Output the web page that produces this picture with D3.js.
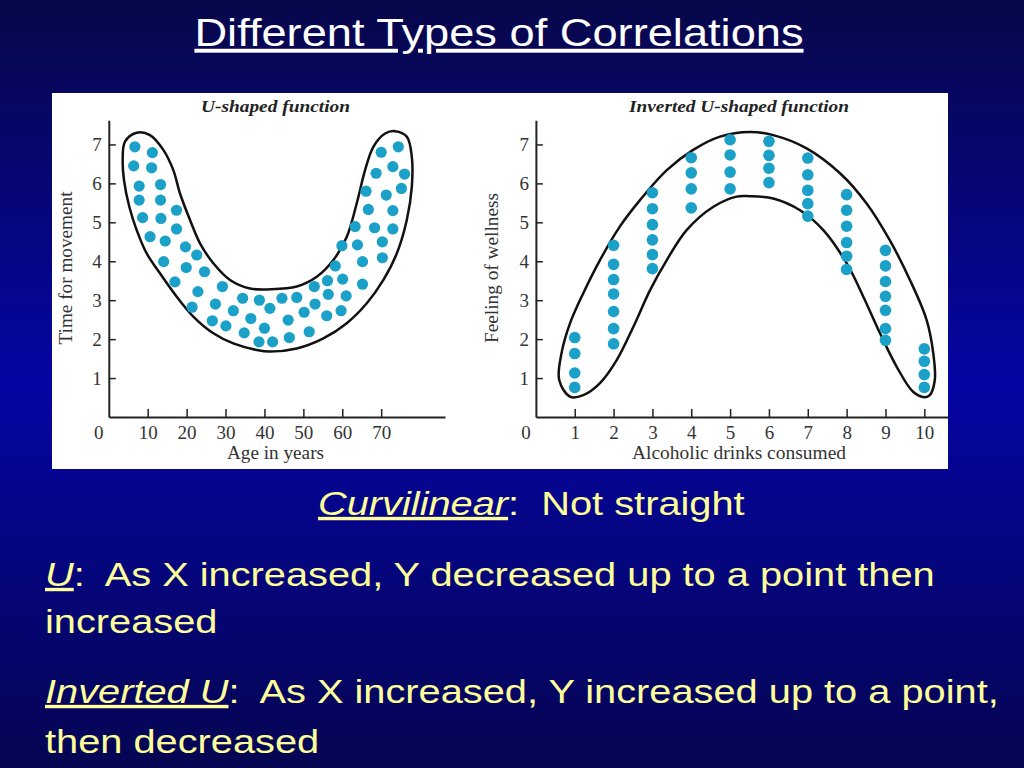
<!DOCTYPE html>
<html>
<head>
<meta charset="utf-8">
<script src="https://cdn.jsdelivr.net/npm/d3@7"></script>
<style>
  html, body { margin: 0; padding: 0; background: #000; }
  svg { display: block; }
</style>
</head>
<body>
<svg id="slide" width="1024" height="768"></svg>
<script>
// ---- data ----
var slideTitle = "Different Types of Correlations";

var uTitle = "U-shaped function";
var uXLabel = "Age in years";
var uYLabel = "Time for movement";
var uXTicks = [10, 20, 30, 40, 50, 60, 70];
var uYTicks = [1, 2, 3, 4, 5, 6, 7];
// [age, time for movement]
var uDots = [
  [6.7,6.94],[11.2,6.79],[6.4,6.45],[11.0,6.40],[7.8,5.93],[13.3,5.97],[7.8,5.57],[13.3,5.57],
  [17.4,5.31],[8.7,5.12],[13.4,5.10],[17.4,4.83],[10.6,4.63],[14.5,4.52],[19.7,4.37],[22.6,4.16],
  [14.1,3.99],[19.9,3.84],[24.6,3.73],[17.0,3.47],[29.2,3.35],[22.9,3.22],[34.4,3.05],[38.7,3.00],
  [21.4,2.82],[27.4,2.90],[41.4,2.79],[32.0,2.73],[26.6,2.47],[36.5,2.53],[30.1,2.34],[40.0,2.28],
  [34.8,2.16],[38.6,1.93],[42.1,1.93],
  [74.4,6.94],[70.0,6.80],[73.0,6.43],[76.0,6.24],[68.7,6.26],[75.2,5.87],[66.1,5.80],[71.3,5.70],
  [66.7,5.33],[73.0,5.30],[63.3,4.89],[68.3,4.86],[73.0,4.83],[59.9,4.40],[63.9,4.42],[70.3,4.50],
  [65.2,3.99],[70.3,4.09],[58.2,3.88],[56.2,3.50],[60.1,3.54],[65.2,3.41],[52.8,3.35],[56.4,3.15],
  [61.0,3.11],[44.5,3.05],[48.3,3.07],[53.0,2.90],[50.2,2.69],[56.0,2.60],[59.7,2.73],[46.1,2.49],
  [51.5,2.19],[46.4,2.04]
];
// outline drawn round the U cloud (closed)
var uEnvelope = [
  [7.17,7.30],[4.16,7.07],[3.57,6.60],[3.91,6.08],[5.27,5.40],[7.17,4.80],[9.74,4.20],[13.16,3.69],
  [17.46,3.09],[21.72,2.58],[26.86,2.15],[32.0,1.89],[38.02,1.72],[41.44,1.68],[48.3,1.76],[55.14,2.02],
  [61.16,2.41],[66.3,2.92],[70.57,3.52],[74.01,4.20],[76.58,5.06],[77.87,5.91],[77.87,6.68],[76.58,7.20],
  [73.57,7.34],[71.0,7.28],[68.0,6.94],[65.86,6.34],[63.73,5.49],[61.16,4.63],[57.71,4.03],[53.44,3.60],
  [48.3,3.35],[41.44,3.28],[36.3,3.30],[31.16,3.52],[26.86,3.95],[23.44,4.46],[20.87,5.06],[18.3,5.74],
  [16.58,6.34],[14.01,6.86],[10.59,7.24]
];

var invTitle = "Inverted U-shaped function";
var invXLabel = "Alcoholic drinks consumed";
var invYLabel = "Feeling of wellness";
var drinks = [1, 2, 3, 4, 5, 6, 7, 8, 9, 10];
var invYTicks = [1, 2, 3, 4, 5, 6, 7];
// wellness scores stacked above each drink count
var wellness = [
  [2.04,1.63,1.13,0.76],
  [4.41,3.92,3.53,3.16,2.71,2.27,1.88],
  [5.76,5.35,4.94,4.55,4.17,3.81],
  [6.66,6.27,5.86,5.37],
  [7.12,6.73,6.29,5.86],
  [7.08,6.72,6.39,6.02],
  [6.65,6.22,5.82,5.48,5.16],
  [5.71,5.31,4.90,4.48,4.13,3.79],
  [4.28,3.88,3.48,3.10,2.74,2.27,1.97],
  [1.75,1.43,1.09,0.76]
];
var invEnvelope = [
  [0.88,0.52],[0.60,0.95],[0.66,1.64],[0.88,2.41],[1.22,3.18],[1.65,4.03],[2.16,4.89],[2.68,5.57],
  [3.37,6.34],[4.05,6.86],[4.74,7.20],[5.51,7.32],[6.11,7.24],[6.97,6.90],[7.83,6.26],[8.51,5.49],
  [9.11,4.54],[9.63,3.52],[10.06,2.49],[10.23,1.64],[10.27,0.95],[10.14,0.56],[10.01,0.51],[9.71,0.65],
  [9.29,1.29],[8.86,2.15],[8.43,3.09],[8.0,3.95],[7.40,4.80],[6.80,5.31],[6.11,5.61],[5.51,5.67],
  [5.17,5.66],[4.57,5.40],[3.88,4.80],[3.37,4.03],[2.94,3.26],[2.51,2.32],[2.08,1.46],[1.65,0.87],
  [1.22,0.56]
];

var noteTerms = ["Curvilinear", "U", "", "Inverted U", ""];
var noteTexts = [
  ":  Not straight",
  ":  As X increased, Y decreased up to a point then",
  "increased",
  ":  As X increased, Y increased up to a point,",
  "then decreased"
];

// ---- layout ----
var W = 1024, H = 768;
var serif = "'Liberation Serif', 'DejaVu Serif', serif";
var sans = "'Liberation Sans', Arial, sans-serif";
var dotColor = "#1ba0c8";
var inkColor = "#222";

var svg = d3.select("#slide");
var defs = svg.append("defs");
var bg = defs.append("linearGradient").attr("id", "bg")
  .attr("x1", 0).attr("y1", 0).attr("x2", 0).attr("y2", 1);
bg.append("stop").attr("offset", "0%").attr("stop-color", "#07074a");
bg.append("stop").attr("offset", "50%").attr("stop-color", "#0505a4");
bg.append("stop").attr("offset", "100%").attr("stop-color", "#050552");

svg.append("rect").attr("width", W).attr("height", H).attr("fill", "url(#bg)");

svg.append("text")
  .attr("transform", "translate(499,46) scale(1.16,1)")
  .attr("text-anchor", "middle")
  .attr("font-family", sans)
  .attr("font-size", 39)
  .attr("fill", "#fff")
  .style("text-decoration", "underline")
  .text(slideTitle);

// white picture panel
svg.append("rect")
  .attr("x", 52).attr("y", 93).attr("width", 896).attr("height", 376)
  .attr("fill", "#fff");

function drawPanel(cfg) {
  var g = svg.append("g");
  var x = d3.scaleLinear().domain(cfg.xDomain).range(cfg.xRange);
  var y = d3.scaleLinear().domain([0, 7.62]).range([417, 120.3]);

  var line = d3.line()
    .x(function(d){ return x(d[0]); })
    .y(function(d){ return y(d[1]); })
    .curve(d3.curveCatmullRomClosed.alpha(0.5));

  g.append("path")
    .attr("d", line(cfg.envelope))
    .attr("fill", "none")
    .attr("stroke", "#111")
    .attr("stroke-width", 2.5);

  g.selectAll("circle.dot")
    .data(cfg.dots)
    .enter().append("circle")
    .attr("class", "dot")
    .attr("cx", function(d){ return x(d[0]); })
    .attr("cy", function(d){ return y(d[1]); })
    .attr("r", cfg.r)
    .attr("fill", dotColor);

  var xAxis = g.append("g")
    .attr("transform", "translate(0,417)")
    .call(d3.axisBottom(x).tickValues(cfg.xTicks).tickSizeInner(-8).tickSizeOuter(0).tickPadding(9));
  var yAxis = g.append("g")
    .attr("transform", "translate(" + cfg.xRange[0] + ",0)")
    .call(d3.axisLeft(y).tickValues(cfg.yTicks).tickSizeInner(-7).tickSizeOuter(0).tickPadding(7));

  [xAxis, yAxis].forEach(function(a){
    a.attr("font-family", null).attr("font-size", null);
    a.select(".domain").attr("stroke", inkColor).attr("stroke-width", 2);
    a.selectAll(".tick line").attr("stroke", inkColor).attr("stroke-width", 1.5);
    a.selectAll(".tick text")
      .attr("font-family", serif).attr("font-size", 19).attr("fill", "#333");
  });

  // origin label sits at the corner, left of the y axis
  g.append("text")
    .attr("x", cfg.xRange[0] - 10).attr("y", 438.5)
    .attr("text-anchor", "middle")
    .attr("font-family", serif).attr("font-size", 19).attr("fill", "#333")
    .text("0");

  g.append("text")
    .attr("x", cfg.titleX).attr("y", 112)
    .attr("text-anchor", "middle")
    .attr("font-family", serif).attr("font-size", 16)
    .attr("font-weight", "bold").attr("font-style", "italic")
    .attr("fill", inkColor)
    .attr("textLength", cfg.titleW).attr("lengthAdjust", "spacingAndGlyphs")
    .text(cfg.title);

  g.append("text")
    .attr("x", cfg.titleX).attr("y", 459)
    .attr("text-anchor", "middle")
    .attr("font-family", serif).attr("font-size", 18)
    .attr("fill", "#333")
    .attr("textLength", cfg.xLabelW).attr("lengthAdjust", "spacingAndGlyphs")
    .text(cfg.xLabel);

  g.append("text")
    .attr("transform", "translate(" + cfg.yLabelX + ",268) rotate(-90)")
    .attr("text-anchor", "middle")
    .attr("font-family", serif).attr("font-size", 18)
    .attr("fill", "#333")
    .attr("textLength", cfg.yLabelW).attr("lengthAdjust", "spacingAndGlyphs")
    .text(cfg.yLabel);
}

drawPanel({
  xDomain: [0, 86.4], xRange: [108.8, 445],
  xTicks: uXTicks, yTicks: uYTicks,
  dots: uDots, envelope: uEnvelope, r: 5.6,
  title: uTitle, titleX: 275.5, titleW: 149,
  xLabel: uXLabel, xLabelW: 97,
  yLabel: uYLabel, yLabelX: 71.5, yLabelW: 153
});

var invDots = [];
wellness.forEach(function(col, i){
  col.forEach(function(v){ invDots.push([drinks[i], v]); });
});

drawPanel({
  xDomain: [0, 10.61], xRange: [535.9, 948],
  xTicks: drinks, yTicks: invYTicks,
  dots: invDots, envelope: invEnvelope, r: 5.8,
  title: invTitle, titleX: 739, titleW: 220,
  xLabel: invXLabel, xLabelW: 214,
  yLabel: invYLabel, yLabelX: 497.5, yLabelW: 150
});

// bullet notes under the picture
var noteX = [318, 45, 45, 45, 45];
var noteY = [515, 586, 633, 703, 753];

noteTexts.forEach(function(t, i){
  var txt = svg.append("text")
    .attr("transform", "translate(" + noteX[i] + "," + noteY[i] + ") scale(1.17,1)")
    .attr("font-family", sans)
    .attr("font-size", 34)
    .attr("fill", "#ffff99")
    .style("white-space", "pre");
  if (noteTerms[i]) {
    txt.append("tspan")
      .attr("font-style", "italic")
      .style("text-decoration", "underline")
      .text(noteTerms[i]);
  }
  txt.append("tspan").text(t);
});
</script>
</body>
</html>
